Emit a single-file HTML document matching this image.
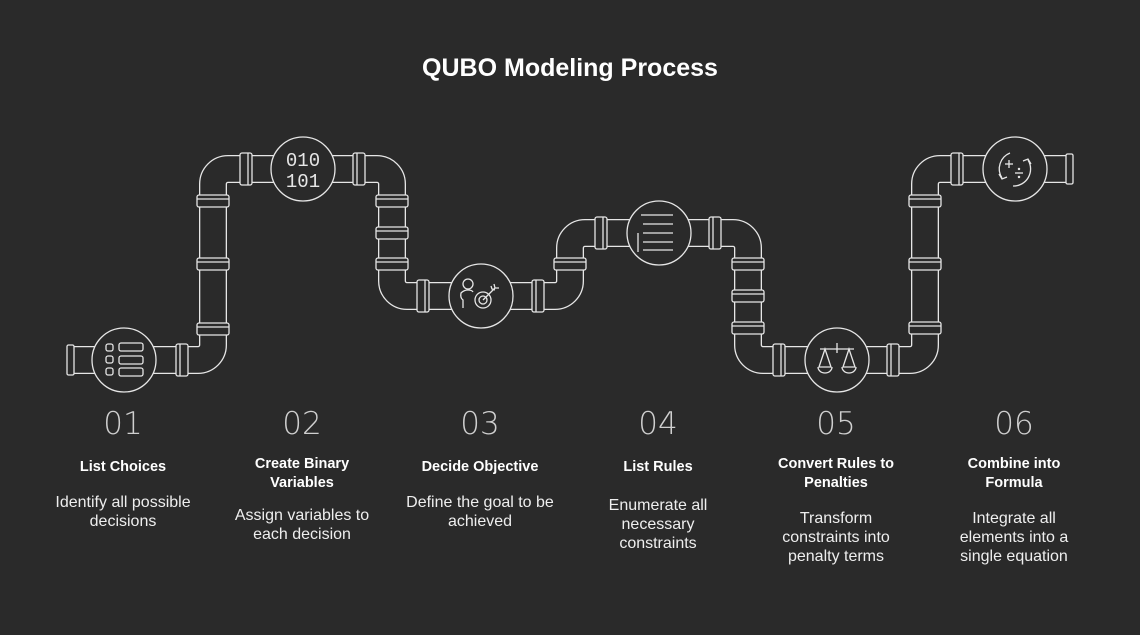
<!DOCTYPE html>
<html><head><meta charset="utf-8"><style>
html,body{margin:0;padding:0;background:#2a2a2a;}
body{width:1140px;height:635px;position:relative;overflow:hidden;font-family:"Liberation Sans",sans-serif;color:#fff;}
.t{position:absolute;left:388px;width:364px;top:53px;text-align:center;font-weight:bold;font-size:25px;line-height:30px;}
.col{position:absolute;width:170px;text-align:center;}
.n{position:absolute;width:170px;text-align:center;top:405px;font-size:31px;font-family:"DejaVu Sans ExtraLight","DejaVu Sans","Liberation Sans",sans-serif;font-weight:200;color:#cfcfcf;line-height:38px;}
.h{font-weight:bold;font-size:14.5px;line-height:19px;}
.d{font-size:16px;line-height:19px;color:#eee;}
svg{position:absolute;left:0;top:0;}
</style></head><body>
<svg width="1140" height="635" viewBox="0 0 1140 635" fill="none" stroke="#e6e6e6" stroke-width="1.3">
<path d="M70 360 H198 A15 15 0 0 0 213 345 V184 A15 15 0 0 1 228 169 H377 A15 15 0 0 1 392 184 V281 A15 15 0 0 0 407 296 H555 A15 15 0 0 0 570 281 V248 A15 15 0 0 1 585 233 H733 A15 15 0 0 1 748 248 V345 A15 15 0 0 0 763 360 H910 A15 15 0 0 0 925 345 V184 A15 15 0 0 1 940 169 H1068" stroke="#e6e6e6" stroke-width="28"/>
<path d="M70 360 H198 A15 15 0 0 0 213 345 V184 A15 15 0 0 1 228 169 H377 A15 15 0 0 1 392 184 V281 A15 15 0 0 0 407 296 H555 A15 15 0 0 0 570 281 V248 A15 15 0 0 1 585 233 H733 A15 15 0 0 1 748 248 V345 A15 15 0 0 0 763 360 H910 A15 15 0 0 0 925 345 V184 A15 15 0 0 1 940 169 H1068" stroke="#2a2a2a" stroke-width="25.4"/>
<g fill="#2a2a2a">
<rect x="67" y="345" width="7" height="30" rx="1.5"/>
<rect x="1066" y="154" width="7" height="30" rx="1.5"/>
<g>
<rect x="176" y="344" width="12" height="32" rx="2"/><line x1="180" y1="344" x2="180" y2="376"/>
<rect x="240" y="153" width="12" height="32" rx="2"/><line x1="248" y1="153" x2="248" y2="185"/>
<rect x="353" y="153" width="12" height="32" rx="2"/><line x1="357" y1="153" x2="357" y2="185"/>
<rect x="417" y="280" width="12" height="32" rx="2"/><line x1="425" y1="280" x2="425" y2="312"/>
<rect x="532" y="280" width="12" height="32" rx="2"/><line x1="536" y1="280" x2="536" y2="312"/>
<rect x="595" y="217" width="12" height="32" rx="2"/><line x1="603" y1="217" x2="603" y2="249"/>
<rect x="709" y="217" width="12" height="32" rx="2"/><line x1="713" y1="217" x2="713" y2="249"/>
<rect x="773" y="344" width="12" height="32" rx="2"/><line x1="781" y1="344" x2="781" y2="376"/>
<rect x="887" y="344" width="12" height="32" rx="2"/><line x1="891" y1="344" x2="891" y2="376"/>
<rect x="951" y="153" width="12" height="32" rx="2"/><line x1="959" y1="153" x2="959" y2="185"/>
</g>
<g>
<rect x="197" y="195" width="32" height="12" rx="2"/><line x1="197" y1="199" x2="229" y2="199"/>
<rect x="197" y="258" width="32" height="12" rx="2"/><line x1="197" y1="262" x2="229" y2="262"/>
<rect x="197" y="323" width="32" height="12" rx="2"/><line x1="197" y1="327" x2="229" y2="327"/>
<rect x="376" y="195" width="32" height="12" rx="2"/><line x1="376" y1="199" x2="408" y2="199"/>
<rect x="376" y="227" width="32" height="12" rx="2"/><line x1="376" y1="231" x2="408" y2="231"/>
<rect x="376" y="258" width="32" height="12" rx="2"/><line x1="376" y1="262" x2="408" y2="262"/>
<rect x="554" y="258" width="32" height="12" rx="2"/><line x1="554" y1="262" x2="586" y2="262"/>
<rect x="732" y="258" width="32" height="12" rx="2"/><line x1="732" y1="262" x2="764" y2="262"/>
<rect x="732" y="290" width="32" height="12" rx="2"/><line x1="732" y1="294" x2="764" y2="294"/>
<rect x="732" y="322" width="32" height="12" rx="2"/><line x1="732" y1="326" x2="764" y2="326"/>
<rect x="909" y="195" width="32" height="12" rx="2"/><line x1="909" y1="199" x2="941" y2="199"/>
<rect x="909" y="258" width="32" height="12" rx="2"/><line x1="909" y1="262" x2="941" y2="262"/>
<rect x="909" y="322" width="32" height="12" rx="2"/><line x1="909" y1="326" x2="941" y2="326"/>
</g>
<circle cx="124" cy="360" r="32"/>
<circle cx="303" cy="169" r="32"/>
<circle cx="481" cy="296" r="32"/>
<circle cx="659" cy="233" r="32"/>
<circle cx="837" cy="360" r="32"/>
<circle cx="1015" cy="169" r="32"/>
</g>
<g>
<rect x="106" y="344" width="7" height="7" rx="2"/><rect x="106" y="356" width="7" height="7" rx="2"/><rect x="106" y="368" width="7" height="7" rx="2"/>
<rect x="119" y="343" width="24" height="8" rx="2"/><rect x="119" y="356" width="24" height="8" rx="2"/><rect x="119" y="368" width="24" height="8" rx="2"/>
</g>
<text x="303" y="166" text-anchor="middle" font-family="Liberation Mono, monospace" font-size="19" fill="#e6e6e6" stroke="none">010</text>
<text x="303" y="187" text-anchor="middle" font-family="Liberation Mono, monospace" font-size="19" fill="#e6e6e6" stroke="none">101</text>
<g>
<circle cx="468" cy="284" r="5"/>
<path d="M463 308 V300 Q460 298 461 293 Q464 290 468 290 Q472 290 473 292"/>
<circle cx="483" cy="300" r="8"/><circle cx="483" cy="300" r="4"/>
<path d="M483 300 L495 288 M491 286 L492 289 L495 290 M494 284 L495 288 L499 288"/>
</g>
<g>
<line x1="641" y1="215" x2="673" y2="215"/><line x1="643" y1="224" x2="673" y2="224"/>
<line x1="643" y1="233" x2="673" y2="233"/><line x1="643" y1="242" x2="673" y2="242"/>
<line x1="643" y1="250" x2="673" y2="250"/><line x1="638" y1="233" x2="638" y2="252"/>
</g>
<g>
<line x1="820" y1="349" x2="854" y2="349"/><line x1="837" y1="343" x2="837" y2="353"/>
<path d="M825 349 L819 367 H831 Z M849 349 L843 367 H855 Z"/>
<path d="M818 367 A7 6 0 0 0 832 367 M842 367 A7 6 0 0 0 856 367"/>
</g>
<g>
<path d="M1002 178 A17 17 0 0 1 1010 153"/><path d="M1028 160 A17 17 0 0 1 1013 186"/>
<path d="M999 174 L1002 179 L1007 177 M1031 164 L1028 159 L1023 161"/>
<line x1="1005" y1="164" x2="1013" y2="164"/><line x1="1009" y1="160" x2="1009" y2="168"/>
<line x1="1015" y1="173" x2="1023" y2="173"/><circle cx="1019" cy="169" r="0.6"/><circle cx="1019" cy="177" r="0.6"/>
</g>
</svg>
<div class="t">QUBO Modeling Process</div>

<div class="n" style="left:38px">01</div>
<div class="n" style="left:217px">02</div>
<div class="n" style="left:395px">03</div>
<div class="n" style="left:573px">04</div>
<div class="n" style="left:751px">05</div>
<div class="n" style="left:929px">06</div>

<div class="col" style="left:38px;top:458px"><div class="h">List Choices</div><div class="d" style="margin-top:16px">Identify all possible<br>decisions</div></div>
<div class="col" style="left:217px;top:455px"><div class="h">Create Binary<br>Variables</div><div class="d" style="margin-top:13px">Assign variables to<br>each decision</div></div>
<div class="col" style="left:395px;top:458px"><div class="h">Decide Objective</div><div class="d" style="margin-top:16px">Define the goal to be<br>achieved</div></div>
<div class="col" style="left:573px;top:458px"><div class="h">List Rules</div><div class="d" style="margin-top:19px">Enumerate all<br>necessary<br>constraints</div></div>
<div class="col" style="left:751px;top:455px"><div class="h">Convert Rules to<br>Penalties</div><div class="d" style="margin-top:16px">Transform<br>constraints into<br>penalty terms</div></div>
<div class="col" style="left:929px;top:455px"><div class="h">Combine into<br>Formula</div><div class="d" style="margin-top:16px">Integrate all<br>elements into a<br>single equation</div></div>
</body></html>
